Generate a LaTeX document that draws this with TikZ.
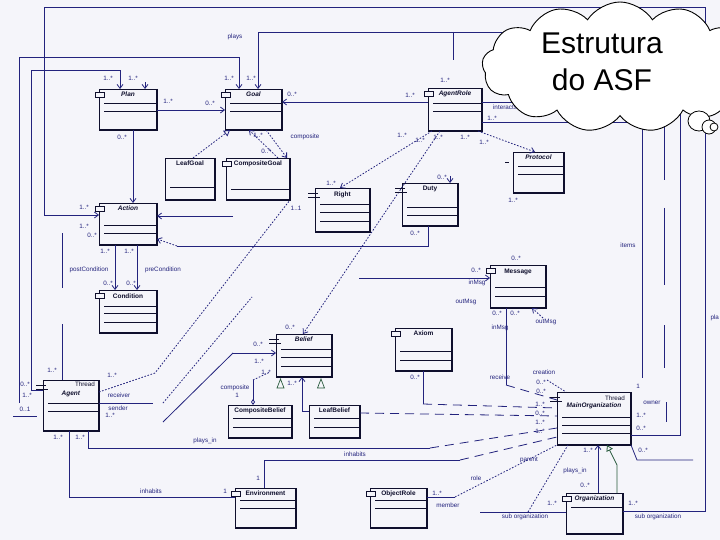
\documentclass[tikz,border=0pt]{standalone}
\usepackage{fontspec}
\setmainfont{Liberation Sans}
\usetikzlibrary{arrows.meta,shapes.symbols}
\definecolor{bg}{RGB}{245,245,250}
\definecolor{navy}{RGB}{35,35,125}
\definecolor{ink}{RGB}{15,15,45}
\definecolor{gen}{RGB}{40,90,60}
\newcommand{\ucls}[8]{%
  \node[minimum width={#4-#2}, minimum height={#5-#3}, inner sep=0pt, outer sep=0pt, anchor=north west] (#1) at (#2,#3) {};
  \draw[ink, line width=0.7pt] (#1.south west) -- (#1.north west) -- (#1.north east);
  \draw[ink, line width=1.8pt] (#1.north east) -- (#1.south east) -- (#1.south west);
  \node[cname, anchor=north] (#1-name) at ([yshift=-#8pt]#1.north) {#6};
  \foreach \yy in {#7} {\draw[ink, line width=0.7pt] ({#2+5},\yy) -- (#4,\yy);}
}
\newcommand{\iconA}[1]{\draw[ink, line width=0.6pt, fill=bg] ([shift={(-4pt,-3pt)}]#1.north west) rectangle ([shift={(5pt,-8pt)}]#1.north west);}
\newcommand{\iconB}[1]{\draw[ink, line width=0.8pt] ([shift={(-7pt,-5pt)}]#1.north west) -- ++(10pt,0pt) ([shift={(-7pt,-9pt)}]#1.north west) -- ++(12pt,0pt);}
\begin{document}
\begin{tikzpicture}[x=1pt,y=-1pt,
 cname/.style={font=\fontsize{6.5}{7}\selectfont\bfseries, text=ink, inner sep=0pt},
 lbl/.style={font=\fontsize{6.3}{7}\selectfont, text=navy, inner sep=0.3pt},
 conn/.style={draw=navy, line width=0.8pt},
 dotc/.style={conn, dash pattern=on 1.6pt off 1.6pt},
 dashc/.style={conn, dash pattern=on 9pt off 6pt},
 oarr/.style={-{Straight Barb[length=4pt,width=6pt]}},
 tri/.style={-{Triangle[open,length=6pt,width=7pt]}},
]
\fill[bg] (0,0) rectangle (720,540);
\useasboundingbox (0,0) rectangle (720,540);
\clip (0,0) rectangle (720,540);

% classes
\ucls{plan}{99}{89}{157}{130}{\textit{Plan}}{103,111}{3}
\ucls{goal}{225}{89}{282}{130}{\textit{Goal}}{103,111}{3}
\ucls{agentrole}{428}{88}{482}{131}{\textit{AgentRole}}{103,111}{3}
\ucls{leafgoal}{165}{158}{215}{200}{LeafGoal}{187}{3}
\ucls{compositegoal}{226}{158}{290}{200}{CompositeGoal}{189}{3}
\ucls{protocol}{513}{152}{564}{193}{\textit{Protocol}}{166,174}{3}
\ucls{rightc}{315}{188}{370}{232}{Right}{204,212,221}{4}
\ucls{duty}{402}{183}{458}{226}{Duty}{207,215}{3}
\ucls{action}{99}{203}{157}{245}{\textit{Action}}{225,233}{3}
\ucls{condition}{99}{290}{157}{333}{Condition}{306,313,322}{4}
\ucls{message}{490}{265}{546}{308}{Message}{287,296}{4}
\ucls{belief}{276}{334}{332}{377}{\textit{Belief}}{349,357,366}{3}
\ucls{axiom}{395}{328}{452}{371}{Axiom}{351,360}{3}
\ucls{compositebelief}{228}{405}{292}{438}{CompositeBelief}{418,427}{3}
\ucls{leafbelief}{309}{405}{360}{438}{LeafBelief}{418,427}{3}
\ucls{agent}{43}{380}{99}{431}{\textit{Agent}}{403,411}{11}
\ucls{mainorg}{557}{392}{631}{445}{\textit{MainOrganization}}{417,425,433}{11}
\ucls{environment}{235}{488}{296}{528}{Environment}{500,508}{3}
\ucls{objectrole}{370}{488}{427}{528}{ObjectRole}{500,508}{3}
\ucls{organization}{566}{493}{623}{534}{\textit{Organization}}{507}{3}

% connectors
\draw[conn, oarr] (organization.east |- 0,511) -- (705,511) -- (705,7) -- (44,7) -- (44,215) -- (action.west |- 0,215);
\draw[conn, oarr] (mainorg.east |- 0,435) -- (680,435) -- (680,32) -- (258,32) -- (258,0 |- goal.north);
\draw[conn] (453,32) -- (453,60);
\draw[conn, oarr] (19,403) -- (19,57) -- (239,57) -- (239,0 |- goal.north);
\draw[conn, oarr] (agent.west |- 0,390) -- (31,390) -- (31,70) -- (120,70) -- (120,0 |- plan.north);
\draw[conn, oarr] (145,82) -- (145,0 |- plan.north);
\draw[conn] (13,416) -- (37,416);
\draw[conn] (62,233) -- (62,288);
\draw[conn] (62,324) -- (62,0 |- agent.north);
\draw[conn, oarr] (plan.east |- 0,110) -- (goal.west |- 0,110);
\draw[conn, oarr] (agentrole.west |- 0,102) -- (goal.east |- 0,102);
\draw[conn, oarr] (133,0 |- plan.south) -- (133,0 |- action.north);
\draw[conn, oarr] (233,216) -- (action.east |- 0,216);
\draw[conn] (428,0 |- duty.south) -- (428,246) -- (177,246);
\draw[dotc, oarr] (177,246) -- (action.east |- 0,239);
\draw[conn, oarr] (115,0 |- action.south) -- (115,0 |- condition.north);
\draw[conn, oarr] (137,0 |- action.south) -- (137,0 |- condition.north);
\draw[dotc, tri] (193,0 |- leafgoal.north) -- (230,0 |- goal.south);
\draw[dotc, oarr] (278,0 |- compositegoal.north) -- (249,0 |- goal.south);
\draw[dotc, oarr] (266,0 |- goal.south) -- (287,0 |- compositegoal.north);
\draw[dotc, oarr] (432,0 |- agentrole.south) -- (340,0 |- rightc.north);
\draw[dotc, oarr] (440,0 |- agentrole.south) -- (303,0 |- belief.north);
\draw[dotc, oarr] (478,0 |- agentrole.south) -- (535,0 |- protocol.north);
\draw[conn, oarr] (450,176) -- (450,0 |- duty.north);
\draw[conn] (agentrole.east |- 0,102) -- (525,102);
\draw[conn] (agentrole.east |- 0,122) -- (642,122) -- (642,378);
\draw[conn] (664,122) -- (664,180) (664,208) -- (664,285) (664,325) -- (664,368) (666,402) -- (666,422);
\draw[conn, oarr] (359,278) -- (message.west |- 0,278);
\draw[dotc, oarr] (543,318) -- (532,0 |- message.south);
\draw[conn] (506,0 |- message.south) -- (506,385);
\draw[dashc] (506,385) -- (mainorg.west |- 0,400);
\draw[dotc] (547,380) -- (566,0 |- mainorg.north);
\draw[conn] (423,0 |- axiom.south) -- (423,404);
\draw[dashc] (423,404) -- (mainorg.west |- 0,408);
\draw[dashc] (leafbelief.east |- 0,413) -- (mainorg.west |- 0,416);
\draw[conn] (88,0 |- agent.south) -- (88,448) -- (430,448);
\draw[dashc] (430,448) -- (mainorg.west |- 0,428);
\draw[conn] (264,0 |- environment.north) -- (264,460) -- (460,460);
\draw[dashc] (460,460) -- (mainorg.west |- 0,437);
\draw[conn] (69,0 |- agent.south) -- (69,497) -- (environment.west |- 0,497);
\draw[conn] (objectrole.east |- 0,497) -- (455,497);
\draw[dotc] (455,497) -- (mainorg.south west);
\draw[conn] (organization.west |- 0,512) -- (480,512);
\draw[dotc] (528,512) -- (568,0 |- mainorg.south);
\draw[conn, oarr] (598,0 |- organization.north) -- (598,0 |- mainorg.south);
\draw[conn, draw=gen, tri] (617,0 |- organization.north) -- (617,465) -- (607,0 |- mainorg.south);
\draw[conn] (mainorg.south east) -- (637,460) -- (693,460);
\draw[dotc] (agent.east |- 0,392) -- (155,373) -- (compositegoal.south east);
\draw[conn] (agent.east |- 0,403) -- (153,403);
\draw[dotc] (163,403) -- (252,297);
\draw[conn] (163,422) -- (233,353);
\draw[conn, oarr] (233,353) -- (belief.west |- 0,353);
\draw[conn, {Diamond[open,length=6pt,width=4pt]}-] (253,0 |- compositebelief.north) -- (253,380);
\draw[dotc] (253,380) -- (270,372);
\draw[conn, oarr] (leafbelief.west |- 0,411) -- (302,411) -- (302,0 |- belief.south);
\draw[draw=gen, line width=0.7pt] (277,388) -- (280.5,379) -- (284,388) -- cycle;
\draw[draw=gen, line width=0.7pt] (317.5,388) -- (321,379) -- (324.5,388) -- cycle;

% icons
\foreach \c in {plan,goal,agentrole,compositegoal,action,condition,message,axiom,environment,objectrole,organization} {\iconA{\c}}
\foreach \c in {rightc,duty,belief,agent,mainorg} {\iconB{\c}}
\draw[ink, line width=1pt] (505,163) -- (509,163);
\node[lbl, text=ink] (agthread) at (85,384) {Thread};
\node[lbl, text=ink] (mothread) at (615,398) {Thread};

% labels
\foreach \x/\y/\t [count=\i] in {235/37/plays,
108/78/1..*, 133/78/1..*, 229/78/1..*, 251/78/1..*,
168/101/1..*, 210/103/0..*, 292/94/0..*, 410/95/1..*, 445/80/1..*,
505/107/interacts, 492/118/1..*,
122/137/0..*, 258/135/1..*, 266/151/0..*, 305/137/composite,
402/135/1..*, 420/140/1..*, 438/137/1..*, 465/137/1..*, 484/142/1..*,
331/183/1..*, 296/208/1..1, 442/177/0..*, 513/200/1..*,
84/207/1..*, 84/226/1..*, 92/235/0..*,
105/251/1..*, 129/251/1..*,
89/270/postCondition, 163/270/preCondition,
108/283/0..*, 131/283/0..*,
415/233/0..*, 516/258/0..*,
476/270/0..*, 477/283/inMsg, 466/302/outMsg,
497/313/0..*, 515/313/0..*, 546/322/outMsg, 500/328/inMsg,
628/245/items,
415/377/0..*, 290/327/0..*,
258/344/0..*, 259/361/1..*, 266/372/1..*,
235/388/composite, 237/395/1, 292/383/1..*,
25/384/0..*, 27/395/1..*, 25/409/0..1, 52/370/1..*,
112/375/1..*, 119/395/receiver, 118/408/sender, 110/415/1..*,
58/437/1..*, 80/437/1..*,
205/441/plays\_in,
151/491/inhabits, 225/491/1, 355/454/inhabits, 258/478/1,
437/493/1..*, 448/505/member, 476/478/role,
500/377/receive, 544/372/creation,
541/382/0..*, 541/391/0..*, 540/404/1..*, 540/413/0..*, 540/422/1..*, 540/431/1..*,
529/460/parent,
638/386/1, 652/403/owner, 641/415/1..*, 641/428/0..*, 643/450/0..*,
588/450/1..*, 575/471/plays\_in, 585/485/0..*,
552/503/1..*, 525/517/sub organization, 633/503/1..*, 658/517/sub organization}
  {\node[lbl] (t\i) at (\x,\y) {\t};}
\node[lbl, anchor=west] (tpla) at (710,318) {pla};

% cloud
\node[cloud, cloud puffs=13, cloud puff arc=115, aspect=2.1, draw=black, fill=white, line width=0.9pt, minimum width=276pt, minimum height=130pt, inner sep=0pt] (cloud) at (620,67) {};
\node[font=\fontsize{30}{37}\selectfont, align=center, text=black, inner sep=0pt] (title) at (602,62) {Estrutura\\do ASF};
\draw[black, line width=0.8pt, fill=white] (699,121) ellipse (11 and 10);
\draw[black, line width=0.8pt, fill=white] (709,127) circle (7);
\draw[black, line width=0.8pt, fill=white] (714,127) circle (4);
\end{tikzpicture}
\end{document}
